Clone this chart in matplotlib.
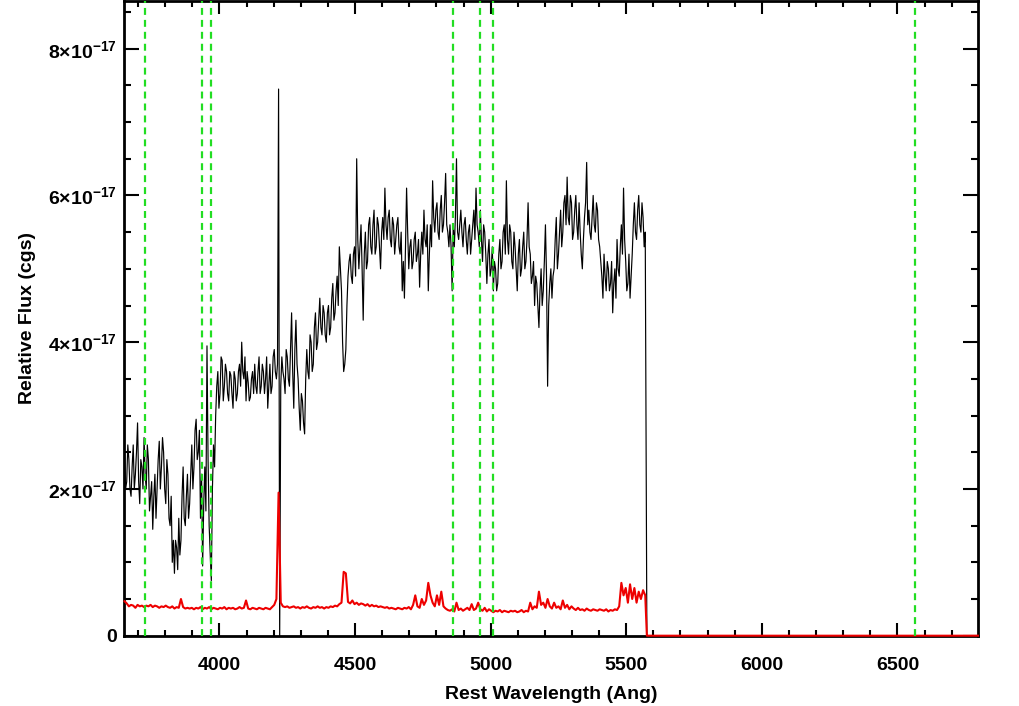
import numpy as np
import matplotlib
matplotlib.use("Agg")
import matplotlib.pyplot as plt
from matplotlib.ticker import MultipleLocator, FuncFormatter

plt.rcParams.update({
    "font.family": "Liberation Sans", "font.weight": "bold",
    "mathtext.fontset": "custom", "mathtext.rm": "Liberation Sans:bold",
    "mathtext.it": "Liberation Sans:bold", "mathtext.bf": "Liberation Sans:bold",
    "mathtext.default": "rm", "lines.scale_dashes": False,
})

# spectrum read every 8 Ang (flux, err), plus in-between readings (flux_mid);
# flux in units of 1e-17 cgs
wave = np.arange(3650, 5571, 8)
flux = [
    2.5, 2.1, 2.4, 1.9, 2.6, 2.2, 2.9, 1.8, 2.3, 2.7,
    2.0, 2.4, 1.9, 1.45, 2.2, 2.0, 2.65, 2.3, 2.5, 1.8,
    2.2, 1.5, 1.0, 0.85, 1.2, 1.6, 1.3, 2.3, 1.5, 2.2,
    1.8, 2.6, 2.3, 2.95, 2.5, 1.6, 0.95, 2.3, 3.95, 1.5,
    0.75, 2.6, 3.0, 3.6, 3.3, 3.75, 3.4, 3.6, 3.2, 3.55,
    3.1, 3.5, 3.3, 3.7, 4.0, 3.5, 3.2, 3.45, 3.25, 3.6,
    3.7, 3.3, 3.8, 3.4, 3.6, 3.5, 3.1, 3.7, 3.4, 3.9,
    3.5, 7.45, 3.4, 3.6, 3.3, 3.8, 3.4, 4.4, 3.1, 4.3,
    3.5, 2.8, 3.2, 2.75, 3.9, 3.5, 4.0, 3.7, 4.4, 4.0,
    4.6, 4.1, 4.4, 4.0, 4.5, 4.2, 4.8, 4.4, 4.9, 5.3,
    4.7, 3.6, 3.9, 4.9, 5.2, 4.8, 5.3, 6.5, 5.0, 5.6,
    4.3, 5.5, 5.1, 5.7, 5.2, 5.8, 5.3, 5.6, 5.0, 5.7,
    6.1, 5.4, 5.8, 5.3, 5.6, 5.4, 5.7, 5.2, 4.7, 4.6,
    6.1, 5.0, 5.4, 5.1, 5.5, 5.2, 4.75, 5.5, 5.8, 5.3,
    4.7, 5.6, 6.2, 5.5, 5.9, 5.4, 6.0, 5.6, 6.3, 5.5,
    5.6, 4.7, 5.3, 6.5, 5.4, 5.8, 5.3, 5.7, 5.2, 5.6,
    5.4, 5.8, 6.1, 5.5, 5.8, 5.1, 5.5, 4.8, 5.4, 5.0,
    4.7, 5.0, 4.8, 5.4, 5.1, 5.6, 6.2, 5.2, 5.5, 5.0,
    5.3, 4.7, 5.4, 5.0, 5.5, 5.1, 5.9, 5.2, 4.9, 4.5,
    4.8, 4.2, 5.0, 4.7, 5.6, 3.4, 4.8, 4.6, 5.0, 5.7,
    5.2, 5.8, 5.5, 6.0, 6.25, 5.6, 5.9, 5.5, 6.0, 5.4,
    5.5, 5.0, 5.7, 6.45, 5.8, 5.4, 6.0, 5.5, 5.8, 5.3,
    4.9, 5.2, 4.7, 5.0, 4.8, 4.4, 5.0, 5.4, 4.9, 5.6,
    6.1, 5.1, 4.8, 4.6, 5.2, 5.9, 5.4, 6.0, 5.5, 5.7,
    5.5,
]
flux_mid = [
    2.0, 2.6, 2.0, 2.3, 2.0, 2.5, 2.1, 2.4, 2.0, 2.2,
    2.6, 1.7, 2.1, 1.9, 1.6, 2.4, 2.0, 2.7, 2.0, 2.4,
    1.6, 1.9, 1.3, 1.3, 0.9, 1.1, 1.9, 1.6, 1.9, 1.6,
    2.2, 2.0, 2.8, 2.4, 2.8, 2.2, 1.8, 1.7, 2.4, 1.1,
    2.0, 2.3, 3.4, 3.1, 3.8, 3.2, 3.7, 3.3, 3.6, 3.3,
    3.6, 3.2, 3.6, 3.4, 3.6, 3.8, 3.6, 3.2, 3.5, 3.3,
    3.4, 3.6, 3.3, 3.7, 3.3, 3.8, 3.4, 3.3, 3.8, 3.6,
    3.7, -0.05, 3.8, 3.5, 3.9, 3.5, 3.9, 3.6, 3.9, 3.7,
    3.1, 3.3, 2.9, 3.5, 3.6, 4.1, 3.6, 4.2, 3.9, 4.3,
    4.2, 4.5, 4.1, 4.4, 4.1, 4.6, 4.3, 4.7, 4.5, 5.0,
    4.0, 3.7, 4.5, 5.1, 4.9, 5.2, 4.9, 5.4, 5.3, 5.0,
    5.2, 5.0, 5.6, 5.3, 5.6, 5.2, 5.7, 5.3, 5.5, 5.4,
    5.6, 5.7, 5.4, 5.7, 5.2, 5.6, 5.3, 5.5, 5.1, 5.3,
    5.5, 5.3, 5.0, 5.4, 5.1, 5.4, 5.2, 5.2, 5.4, 5.6,
    5.2, 5.3, 5.7, 5.8, 5.5, 5.8, 5.5, 5.9, 5.6, 5.3,
    5.3, 5.6, 5.7, 5.5, 5.6, 5.5, 5.6, 5.4, 5.5, 5.2,
    5.6, 5.4, 5.6, 5.3, 5.4, 5.6, 5.2, 5.2, 4.9, 5.3,
    5.1, 4.7, 5.2, 5.0, 5.5, 5.2, 5.4, 5.6, 5.1, 5.5,
    5.0, 5.2, 4.9, 5.3, 5.0, 5.4, 5.3, 4.8, 5.1, 4.9,
    4.5, 4.7, 4.5, 5.1, 4.9, 4.5, 5.0, 4.9, 5.4, 5.0,
    5.5, 5.3, 5.9, 5.6, 5.7, 6.0, 5.4, 5.8, 5.6, 5.9,
    5.2, 5.4, 5.9, 5.6, 5.5, 5.7, 5.6, 5.9, 5.4, 5.1,
    4.6, 4.9, 5.1, 4.7, 5.1, 4.8, 4.6, 5.0, 5.3, 5.2,
    5.4, 4.7, 5.2, 4.9, 5.6, 5.5, 5.8, 5.6, 5.9, 5.3,
]
err = [
    0.47, 0.44, 0.40, 0.42, 0.41, 0.38, 0.42, 0.40, 0.41, 0.39,
    0.41, 0.40, 0.42, 0.39, 0.41, 0.40, 0.38, 0.40, 0.39, 0.41,
    0.39, 0.38, 0.40, 0.37, 0.39, 0.38, 0.50, 0.39, 0.37, 0.38,
    0.37, 0.38, 0.36, 0.38, 0.37, 0.39, 0.36, 0.38, 0.37, 0.39,
    0.36, 0.38, 0.37, 0.36, 0.38, 0.37, 0.39, 0.36, 0.38, 0.37,
    0.38, 0.36, 0.37, 0.39, 0.37, 0.38, 0.48, 0.37, 0.36, 0.38,
    0.37, 0.36, 0.38, 0.37, 0.36, 0.38, 0.37, 0.36, 0.39, 0.42,
    0.50, 1.95, 0.45, 0.40, 0.39, 0.40, 0.38, 0.39, 0.40, 0.38,
    0.39, 0.37, 0.39, 0.38, 0.40, 0.38, 0.37, 0.39, 0.38, 0.40,
    0.38, 0.39, 0.37, 0.39, 0.38, 0.40, 0.39, 0.41, 0.40, 0.43,
    0.45, 0.87, 0.85, 0.46, 0.44, 0.48, 0.43, 0.45, 0.42, 0.44,
    0.43, 0.41, 0.43, 0.40, 0.42, 0.40, 0.41, 0.39, 0.40, 0.39,
    0.38, 0.39, 0.37, 0.38, 0.37, 0.36, 0.38, 0.37, 0.36, 0.38,
    0.37, 0.39, 0.36, 0.42, 0.55, 0.40, 0.38, 0.50, 0.42, 0.48,
    0.72, 0.55, 0.45, 0.40, 0.55, 0.42, 0.60, 0.40, 0.37, 0.35,
    0.34, 0.36, 0.33, 0.45, 0.35, 0.37, 0.34, 0.36, 0.38, 0.35,
    0.43, 0.35, 0.37, 0.45, 0.36, 0.34, 0.38, 0.33, 0.36, 0.34,
    0.32, 0.34, 0.33, 0.35, 0.32, 0.34, 0.33, 0.32, 0.34, 0.33,
    0.34, 0.32, 0.33, 0.35, 0.32, 0.34, 0.33, 0.45, 0.36, 0.40,
    0.38, 0.60, 0.42, 0.45, 0.38, 0.50, 0.40, 0.37, 0.45, 0.38,
    0.40, 0.36, 0.48, 0.38, 0.42, 0.36, 0.40, 0.37, 0.35, 0.38,
    0.35, 0.36, 0.34, 0.37, 0.35, 0.34, 0.36, 0.35, 0.34, 0.36,
    0.35, 0.34, 0.36, 0.33, 0.35, 0.34, 0.36, 0.35, 0.40, 0.72,
    0.55, 0.65, 0.45, 0.70, 0.50, 0.65, 0.45, 0.60, 0.50, 0.62,
    0.55,
]
# no data past the red end of the spectrum
tail_wave = [5576, 6797]
tail_flux = [0.0, 0.0]
# marked lines: [OII], CaK, CaH, Hbeta, [OIII] x2, Halpha
line_waves = [3727, 3934, 3969, 4861, 4959, 5007, 6563]

# interleave the 8 Ang readings with the in-between ones
wave_fine = np.empty(2 * len(wave) - 1)
wave_fine[0::2] = wave
wave_fine[1::2] = wave[:-1] + 4
flux_fine = np.empty_like(wave_fine)
flux_fine[0::2] = flux
flux_fine[1::2] = flux_mid

fig = plt.figure(figsize=(10.2, 7.06), dpi=100)
ax = fig.add_axes([124/1020, 70.3/706, 854/1020, 634.7/706])
ax.plot(np.concatenate([wave_fine, tail_wave]), np.concatenate([flux_fine, tail_flux]),
        color="black", lw=0.85, zorder=2)
ax.plot(np.concatenate([wave, tail_wave]), np.concatenate([err, tail_flux]),
        color="#ee0000", lw=1.5, zorder=3, clip_on=False)
for lw_ in line_waves:
    ax.axvline(lw_, color="#22dd22", lw=1.6, dashes=(5, 3.6), zorder=4)

ax.set_xlim(3648, 6797)
ax.set_ylim(0, 8.65)
ax.xaxis.set_major_locator(MultipleLocator(500))
ax.xaxis.set_minor_locator(MultipleLocator(100))
ax.yaxis.set_major_locator(MultipleLocator(2))
ax.yaxis.set_minor_locator(MultipleLocator(0.5))
ax.yaxis.set_major_formatter(FuncFormatter(
    lambda v, p: "0" if abs(v) < 1e-9 else r"$%d{\times}10^{-17}$" % round(v)))
ax.tick_params(which="both", direction="in", top=True, right=True, width=1.5, labelsize=14)
ax.tick_params(axis="x", which="major", length=9.5, pad=15)
ax.tick_params(axis="x", which="minor", length=4.5)
ax.tick_params(axis="y", which="major", length=11, pad=5)
ax.tick_params(axis="y", which="minor", length=5)
for s in ax.spines.values():
    s.set_linewidth(2)

ax.set_xlabel("Rest Wavelength (Ang)", fontsize=14, fontweight="bold", labelpad=9)
ax.set_ylabel("Relative Flux (cgs)", fontsize=14, fontweight="bold", labelpad=9)

fig.savefig("out.png", dpi=100)
